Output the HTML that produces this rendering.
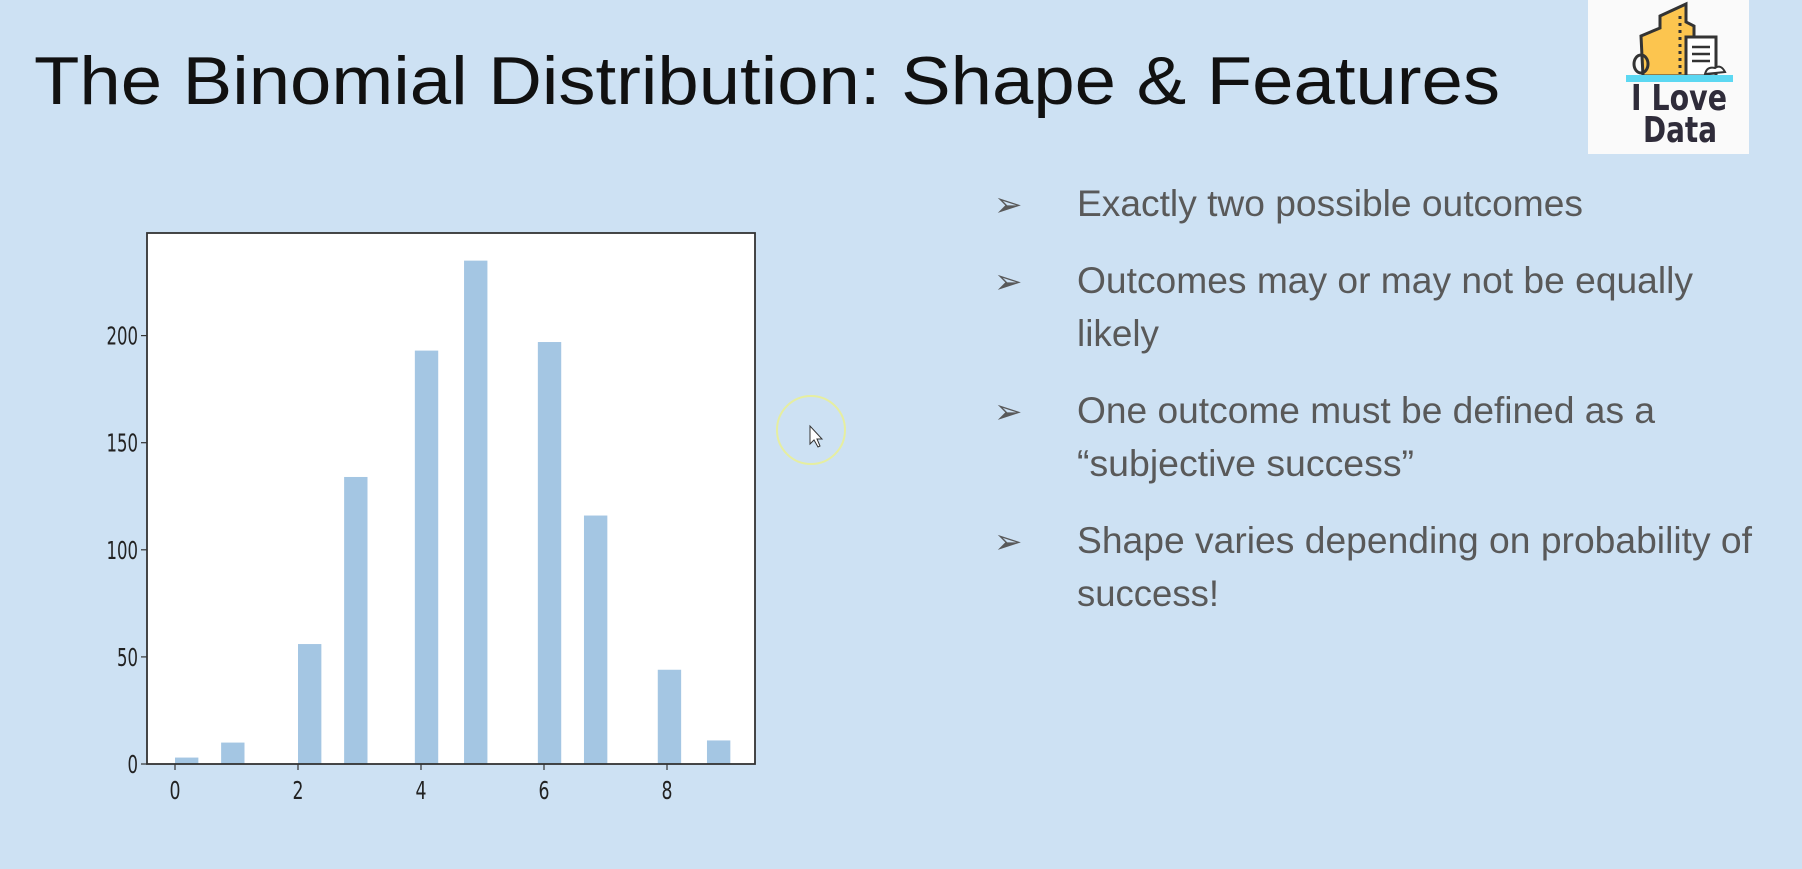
<!DOCTYPE html>
<html><head><meta charset="utf-8"><style>
html,body{margin:0;padding:0;background:#cde1f3;}
svg{display:block;}
</style></head><body>
<svg width="1802" height="869" viewBox="0 0 1802 869" xmlns="http://www.w3.org/2000/svg" font-family="Liberation Sans, sans-serif">
<rect x="0" y="0" width="1802" height="869" fill="#cde1f3"/>
<text x="34" y="104" font-size="68" fill="#111" textLength="1466" lengthAdjust="spacingAndGlyphs">The Binomial Distribution: Shape &amp; Features</text>

<g>
<rect x="1588" y="0" width="161" height="154" fill="#fafafa"/>
<polygon points="1641,36 1660,28 1660,16 1686,4 1686,22 1694,26 1694,76 1643,76" fill="#fcc54f" stroke="#333" stroke-width="3"/>
<line x1="1680" y1="16" x2="1680" y2="74" stroke="#333" stroke-width="3" stroke-dasharray="3,4"/>
<rect x="1686" y="37" width="30" height="39" fill="#fff" stroke="#333" stroke-width="3"/>
<line x1="1692" y1="47" x2="1710" y2="47" stroke="#333" stroke-width="2.5"/>
<line x1="1692" y1="54" x2="1710" y2="54" stroke="#333" stroke-width="2.5"/>
<line x1="1692" y1="61" x2="1710" y2="61" stroke="#333" stroke-width="2.5"/>
<ellipse cx="1641" cy="64" rx="7" ry="9" fill="none" stroke="#333" stroke-width="3"/>
<path d="M1705,74 q2,-8 10,-6 q6,-4 10,4 z" fill="#fff" stroke="#333" stroke-width="2"/>
<rect x="1626" y="75" width="107" height="7" fill="#5cd8f2"/>
<text x="1679" y="110" font-size="36" font-weight="bold" fill="#2f2c3a" text-anchor="middle" font-family="DejaVu Sans, sans-serif" textLength="96" lengthAdjust="spacingAndGlyphs">I Love</text>
<text x="1680" y="142" font-size="36" font-weight="bold" fill="#2f2c3a" text-anchor="middle" font-family="DejaVu Sans, sans-serif" textLength="74" lengthAdjust="spacingAndGlyphs">Data</text>
</g>

<g fill="#595959" font-size="37">
<text x="994" y="216" font-family="DejaVu Sans, sans-serif" font-size="34">➢</text>
<text x="1077" y="216" textLength="506" lengthAdjust="spacingAndGlyphs">Exactly two possible outcomes</text>
<text x="994" y="293" font-family="DejaVu Sans, sans-serif" font-size="34">➢</text>
<text x="1077" y="293" textLength="616" lengthAdjust="spacingAndGlyphs">Outcomes may or may not be equally</text>
<text x="1077" y="346" textLength="82" lengthAdjust="spacingAndGlyphs">likely</text>
<text x="994" y="423" font-family="DejaVu Sans, sans-serif" font-size="34">➢</text>
<text x="1077" y="423" textLength="578" lengthAdjust="spacingAndGlyphs">One outcome must be defined as a</text>
<text x="1077" y="476" textLength="337" lengthAdjust="spacingAndGlyphs">“subjective success”</text>
<text x="994" y="553" font-family="DejaVu Sans, sans-serif" font-size="34">➢</text>
<text x="1077" y="553" textLength="675" lengthAdjust="spacingAndGlyphs">Shape varies depending on probability of</text>
<text x="1077" y="606" textLength="142" lengthAdjust="spacingAndGlyphs">success!</text>
</g>

<circle cx="811" cy="430" r="34" fill="none" stroke="#e6eea0" stroke-width="2"/>
<polygon points="810,426 810,444 814,440 818,447 820,446 817,439 822,439" fill="#fff" stroke="#333" stroke-width="1"/>

<g id="chart"></g>
</svg>
<script>
const binStart = [0, 0.75, 2, 2.75, 3.9, 4.7, 5.9, 6.65, 7.85, 8.65];
const counts = [3, 10, 56, 134, 193, 235, 197, 116, 44, 11];
const yTicks = [0, 50, 100, 150, 200];
const xTicks = [0, 2, 4, 6, 8];
const binWidth = 0.38;

const NS = 'http://www.w3.org/2000/svg';
const g = document.getElementById('chart');
const L = 147, R = 755, T = 233, B = 764;
const x = v => 175 + v * 61.5;
const y = v => B - v * (107.1 / 50);
function mk(tag, attrs) { const e = document.createElementNS(NS, tag); for (const k in attrs) e.setAttribute(k, attrs[k]); g.appendChild(e); return e; }

const plot = mk('rect', {x: L, y: T, width: R - L, height: B - T, fill: '#fff'});



counts.forEach((c, i) => {
  const b = mk('rect', {x: x(binStart[i]), y: y(c), width: binWidth * 61.5, height: B - y(c), fill: '#a4c6e3'});
  
  
});

const frame = mk('rect', {x: L, y: T, width: R - L, height: B - T, fill: 'none', stroke: '#333', 'stroke-width': 1.8});



yTicks.forEach(v => {
  const t = mk('line', {x1: L - 6, x2: L, y1: y(v), y2: y(v), stroke: '#333', 'stroke-width': 1.2});
  
  
  const s = String(v);
  const lb = mk('text', {x: L - 9, y: y(v) + 9, 'text-anchor': 'end', 'font-size': 25, fill: '#222', 'font-family': 'DejaVu Sans, sans-serif', textLength: s.length * 10.5, lengthAdjust: 'spacingAndGlyphs'});
  lb.textContent = s;
  
  
});
xTicks.forEach(v => {
  const t = mk('line', {x1: x(v), x2: x(v), y1: B, y2: B + 6, stroke: '#333', 'stroke-width': 1.2});
  
  
  const lb = mk('text', {x: x(v), y: B + 35, 'text-anchor': 'middle', 'font-size': 25, fill: '#222', 'font-family': 'DejaVu Sans, sans-serif', textLength: 11, lengthAdjust: 'spacingAndGlyphs'});
  lb.textContent = v;
  
  
});
</script>
</body></html>
